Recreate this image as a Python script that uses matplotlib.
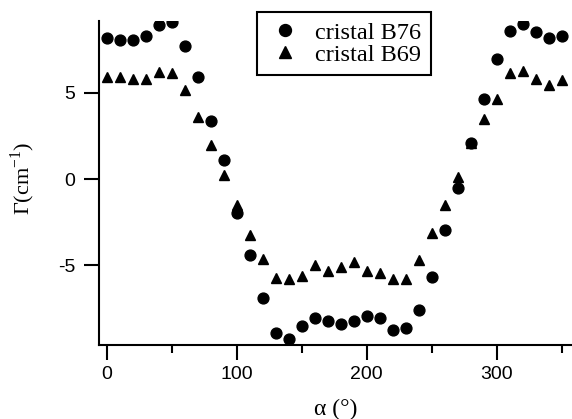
import matplotlib
matplotlib.use('Agg')
import matplotlib.pyplot as plt
from matplotlib.ticker import MultipleLocator

plt.rcParams['mathtext.fontset'] = 'custom'
plt.rcParams['mathtext.rm'] = 'Liberation Serif'
plt.rcParams['axes.unicode_minus'] = False

alpha = [0, 10, 20, 30, 40, 50, 60, 70, 80, 90,
         100, 110, 120, 130, 140, 150, 160, 170, 180, 190,
         200, 210, 220, 230, 240, 250, 260, 270, 280, 290,
         300, 310, 320, 330, 340, 350]

b76 = [8.16, 8.06, 8.06, 8.31, 8.93, 9.12, 7.71, 5.93, 3.36, 1.10,
       -1.97, -4.43, -6.92, -8.91, -9.30, -8.52, -8.04, -8.21, -8.43, -8.21,
       -7.94, -8.04, -8.75, -8.62, -7.59, -5.70, -2.96, -0.50, 2.07, 4.62,
       6.94, 8.60, 8.99, 8.50, 8.16, 8.29]

b69 = [5.93, 5.93, 5.81, 5.81, 6.20, 6.16, 5.16, 3.61, 1.97, 0.23,
       -1.51, -3.25, -4.66, -5.74, -5.82, -5.60, -4.99, -5.35, -5.08, -4.83,
       -5.33, -5.43, -5.82, -5.82, -4.70, -3.15, -1.51, 0.13, 2.10, 3.46,
       4.64, 6.16, 6.28, 5.80, 5.45, 5.74]

fig = plt.figure(figsize=(5.72, 4.19), dpi=100)
ax = fig.add_axes([0.1731, 0.1766, 0.827, 0.7733])

ax.plot(alpha, b76, 'ko', markersize=7.8, linestyle='none', label='cristal B76')
ax.plot(alpha, b69, 'k^', markersize=7.8, linestyle='none', label='cristal B69')

ax.set_xlim(-5.9, 357.9)
ax.set_ylim(-9.62, 9.16)

ax.spines['top'].set_visible(False)
ax.spines['right'].set_visible(False)
for s in ['left', 'bottom']:
    ax.spines[s].set_linewidth(1.5)

ax.xaxis.set_major_locator(MultipleLocator(100))
ax.xaxis.set_minor_locator(MultipleLocator(50))
ax.yaxis.set_major_locator(MultipleLocator(5))
ax.tick_params(which='major', direction='out', length=11, width=1.5,
               labelsize=14, colors='black')
ax.tick_params(axis='x', which='minor', direction='out', length=6, width=1.5)
ax.tick_params(axis='x', which='major', pad=4)
ax.tick_params(axis='y', which='major', pad=6)
for lab in ax.get_xticklabels() + ax.get_yticklabels():
    lab.set_fontfamily('Liberation Sans')

ax.set_xlabel('α (°)', fontfamily='Liberation Serif', fontsize=17)
ax.xaxis.set_label_coords(0.5, -0.165)
ax.set_ylabel('Γ(cm$^{\\mathrm{-1}}$)', fontfamily='Liberation Serif', fontsize=16)
ax.yaxis.set_label_coords(-0.131, 0.515)

leg = ax.legend(loc='upper left', bbox_to_anchor=(0.334, 1.028), borderaxespad=0,
                fancybox=False, framealpha=1, edgecolor='black',
                prop={'family': 'Liberation Serif', 'size': 17.5},
                handletextpad=0.5, handlelength=1.5, borderpad=0.4,
                labelspacing=0.0, markerscale=1.1)
leg.get_frame().set_linewidth(1.5)

plt.savefig('out.png', dpi=100)
plt.close()
